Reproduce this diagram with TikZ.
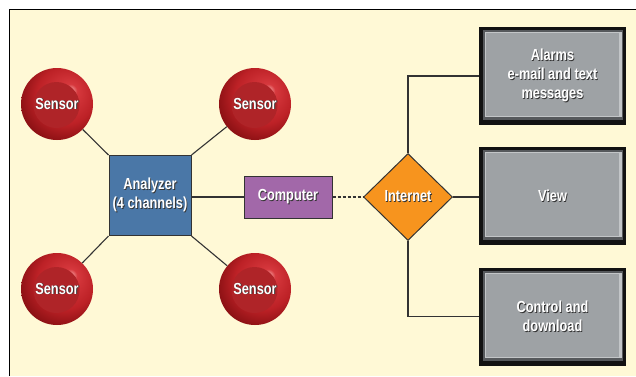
\documentclass[tikz,border=0pt]{standalone}
\usepackage{fontspec}
\setmainfont{Liberation Sans}[FakeStretch=0.8]
\usetikzlibrary{shapes.geometric}
\definecolor{bg}{HTML}{FFF9D6}
\definecolor{anablue}{HTML}{4A77A7}
\definecolor{comppurple}{HTML}{A268A9}
\definecolor{netorange}{HTML}{F7941E}
\definecolor{boxblack}{HTML}{121212}
\definecolor{bevdark}{HTML}{56595C}
\definecolor{bevlight}{HTML}{C2C5C7}
\definecolor{boxface}{HTML}{9EA2A5}
\definecolor{sensin}{HTML}{AF2428}
\definecolor{linegray}{HTML}{333333}
\pgfdeclareradialshading{sensorball}{\pgfpoint{10bp}{10bp}}{%
  rgb(0bp)=(0.96,0.62,0.62);
  rgb(5bp)=(0.84,0.22,0.24);
  rgb(20bp)=(0.74,0.13,0.15);
  rgb(33bp)=(0.50,0.05,0.06);
  rgb(42bp)=(0.40,0.03,0.04);
  rgb(50bp)=(0.40,0.03,0.04)}
\newcommand{\shd}[1]{\makebox[0pt][l]{\hspace{0.9pt}\raisebox{-0.9pt}{\textcolor{black!80}{#1}}}#1}
\begin{document}
\begin{tikzpicture}[x=1pt,y=-1pt,
  lbl/.style={text=white,font=\bfseries\fontsize{16}{19}\selectfont,align=center},
  sensor/.style={lbl,circle,minimum size=72pt,inner sep=0pt,shade,shading=sensorball,
    path picture={\fill[sensin] ([shift={(-0.5pt,-1pt)}]path picture bounding box.center) circle (23pt);}},
  analyzer/.style={lbl,rectangle,minimum width=82pt,minimum height=80pt,inner sep=0pt,fill=anablue,draw=linegray,line width=1pt},
  computer/.style={lbl,rectangle,minimum width=88pt,minimum height=42pt,inner sep=0pt,fill=comppurple,draw=linegray,line width=1pt},
  internet/.style={lbl,diamond,minimum width=89pt,minimum height=87pt,inner sep=0pt,fill=netorange,draw=linegray,line width=1pt},
  outbox/.style={lbl,rectangle,minimum width=147pt,minimum height=98pt,inner sep=0pt,fill=boxblack,
    path picture={
      \fill[bevdark] ([shift={(4pt,-3pt)}]path picture bounding box.north west) rectangle ([shift={(-3pt,5pt)}]path picture bounding box.south east);
      \fill[bevlight] ([shift={(6pt,-5pt)}]path picture bounding box.north west) rectangle ([shift={(-4pt,8pt)}]path picture bounding box.south east);
      \fill[boxface] ([shift={(7pt,-6pt)}]path picture bounding box.north west) rectangle ([shift={(-7pt,9pt)}]path picture bounding box.south east);
    }},
  link/.style={draw=linegray,line width=1.1pt},
  dlink/.style={link,dash pattern=on 3pt off 2pt}
]
\useasboundingbox (0,0) rectangle (636,376);
\fill[white] (0,0) rectangle (636,376);
\fill[bg] (9.5,9.5) rectangle (636,376);
\draw[line width=1.5pt] (9.5,376) -- (9.5,9.5) -- (636,9.5);

\node[sensor] (s1) at (57,104) {\shd{Sensor}};
\node[sensor] (s2) at (255,104) {\shd{Sensor}};
\node[sensor] (s3) at (57,289) {\shd{Sensor}};
\node[sensor] (s4) at (255,289) {\shd{Sensor}};

\node[analyzer] (ana) at (150,195.5) {\shd{Analyzer}\\\shd{(4 channels)}};
\node[computer] (comp) at (288,197) {\shd{Computer}};
\node[internet] (net) at (408,197) {\shd{Internet}};

\node[outbox] (b1) at (552.5,76) {\shd{Alarms}\\\shd{e-mail and text}\\\shd{messages}};
\node[outbox] (b2) at (552.5,196) {\shd{View}};
\node[outbox] (b3) at (552.5,316.5) {\shd{Control and}\\\shd{download}};

\draw[link] (s1) -- (ana.north west);
\draw[link] (s2) -- (ana.north east);
\draw[link] (s3) -- (ana.south west);
\draw[link] (s4) -- (ana.south east);
\draw[link] (comp.west) -- (comp.west -| ana.east);
\draw[dlink] (comp.east) -- (net.west);
\draw[link] (net.north) |- (b1.west);
\draw[link] (net.east) -- (net.east -| b2.west);
\draw[link] (net.south) |- (b3.west);
\end{tikzpicture}
\end{document}
